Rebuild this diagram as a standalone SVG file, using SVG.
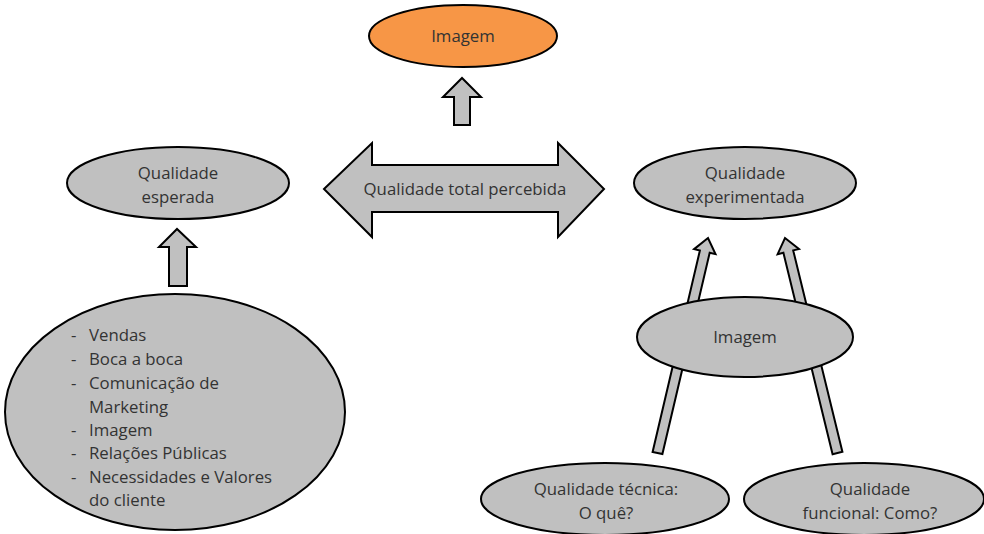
<svg xmlns="http://www.w3.org/2000/svg" width="984" height="534" viewBox="0 0 984 534">
<style>
.n{fill:#c0c0c0;stroke:#000;stroke-width:2}
.o{fill:#f79646;stroke:#000;stroke-width:2}
.a{fill:#c0c0c0;stroke:#000;stroke-width:2;stroke-linejoin:miter}
.t{font-family:"Open Sans","Noto Sans",sans-serif;font-size:16.8px;fill:#333}
.c{text-anchor:middle}
</style>
<rect width="984" height="534" fill="#fff"/>
<g id="connectors">
<polygon class="a" points="454,125 454,97 443,97 462,78 481,97 470,97 470,125"/>
<polygon class="a" points="169,286 169,247 159,247 177,229 196,247 187,247 187,286"/>
<polygon class="a" points="652.6,451.9 699.9,250.5 694.1,249.1 708,238 715.5,254.1 709.7,252.7 662.4,454.1"/>
<polygon class="a" points="832.6,454.2 783.4,252.8 777.6,254.2 785,238 799,249 793.2,250.4 842.4,451.8"/>
</g>
<g id="total">
<polygon class="a" points="324,189 372,143 372,165 558,165 558,143 604,189 558,237 558,212 372,212 372,237"/>
<text class="t c" x="465" y="195">Qualidade total percebida</text>
</g>
<g id="imagem-top">
<ellipse class="o" cx="463" cy="36" rx="94" ry="31"/>
<text class="t c" x="463" y="42">Imagem</text>
</g>
<g id="esperada">
<ellipse class="n" cx="178" cy="183" rx="111" ry="36"/>
<text class="t c" x="178" y="179">Qualidade</text>
<text class="t c" x="178" y="203">esperada</text>
</g>
<g id="experimentada">
<ellipse class="n" cx="745" cy="183" rx="111" ry="36"/>
<text class="t c" x="745" y="179">Qualidade</text>
<text class="t c" x="745" y="203">experimentada</text>
</g>
<g id="fontes">
<ellipse class="n" cx="175" cy="412" rx="170" ry="118"/>
<g class="t">
<text x="71" y="341">-</text><text x="89" y="341">Vendas</text>
<text x="71" y="365">-</text><text x="89" y="365">Boca a boca</text>
<text x="71" y="389">-</text><text x="89" y="389">Comunicação de</text>
<text x="89" y="413">Marketing</text>
<text x="71" y="436">-</text><text x="89" y="436">Imagem</text>
<text x="71" y="459">-</text><text x="89" y="459">Relações Públicas</text>
<text x="71" y="483">-</text><text x="89" y="483">Necessidades e Valores</text>
<text x="89" y="506">do cliente</text>
</g>
</g>
<g id="imagem-right">
<ellipse class="n" cx="745" cy="337" rx="108" ry="40"/>
<text class="t c" x="745" y="343">Imagem</text>
</g>
<g id="tecnica">
<ellipse class="n" cx="605" cy="499" rx="124" ry="36"/>
<text class="t c" x="606" y="495">Qualidade técnica:</text>
<text class="t c" x="606" y="519">O quê?</text>
</g>
<g id="funcional">
<ellipse class="n" cx="864" cy="499" rx="120" ry="36"/>
<text class="t c" x="870" y="495">Qualidade</text>
<text class="t c" x="870" y="519">funcional: Como?</text>
</g>
</svg>
